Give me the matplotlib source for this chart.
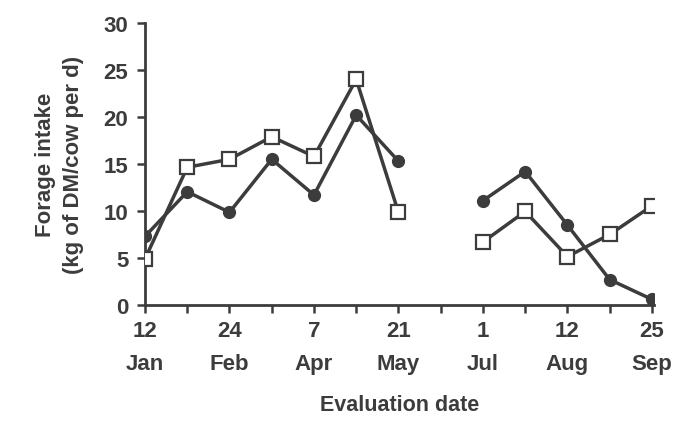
import numpy as np
import matplotlib.pyplot as plt

plt.rcParams['font.family'] = ['Liberation Sans', 'DejaVu Sans']
plt.rcParams['font.weight'] = 'bold'

# evaluation slots (13 evenly spaced, June slot empty)
x_early = [0, 1, 2, 3, 4, 5, 6]
x_late = [8, 9, 10, 11, 12]
circle_early = [7.3, 12.05, 9.86, 15.5, 11.7, 20.2, 15.3]
circle_late = [11.1, 14.2, 8.5, 2.7, 0.6]
square_early = [4.9, 14.65, 15.5, 17.9, 15.8, 24.0, 9.85]
square_late = [6.7, 9.95, 5.15, 7.5, 10.55]

tick_pos = [0, 2, 4, 6, 8, 10, 12]
tick_labels = ["12\nJan", "24\nFeb", "7\nApr", "21\nMay", "1\nJul", "12\nAug", "25\nSep"]

col = "#3c3c3c"
fig = plt.figure(figsize=(6.76, 4.27), dpi=100)
ax = fig.add_axes([0.2145, 0.2834, 0.753, 0.6604])

for xs, ys in [(x_early, circle_early), (x_late, circle_late)]:
    ax.plot(xs, ys, color=col, lw=2.5, marker="o", ms=8.5,
            mfc=col, mec=col, zorder=3)
for xs, ys in [(x_early, square_early), (x_late, square_late)]:
    ax.plot(xs, ys, color=col, lw=2.5, marker="s", ms=9.5,
            mfc="white", mec=col, mew=1.6, zorder=4)

ax.set_xlim(0, 12.05)
ax.set_ylim(0, 30)
ax.set_yticks([0, 5, 10, 15, 20, 25, 30])
ax.set_xticks(range(13), minor=True)
ax.set_xticks(tick_pos)
ax.set_xticklabels(tick_labels, linespacing=1.75)

for s in ["top", "right"]:
    ax.spines[s].set_visible(False)
for s in ["left", "bottom"]:
    ax.spines[s].set_color(col)
    ax.spines[s].set_linewidth(2)
ax.tick_params(axis="both", which="both", direction="out", length=6,
               width=1.8, color=col, labelsize=16, labelcolor=col)
ax.tick_params(axis="x", pad=5)
ax.tick_params(axis="y", pad=6)

ax.set_ylabel("Forage intake\n(kg of DM/cow per d)", fontsize=16,
              fontweight="bold", color=col, labelpad=14, linespacing=1.45)
ax.set_xlabel("Evaluation date", fontsize=15.5, fontweight="bold",
              color=col, labelpad=14)

fig.savefig("out.png", dpi=100)
